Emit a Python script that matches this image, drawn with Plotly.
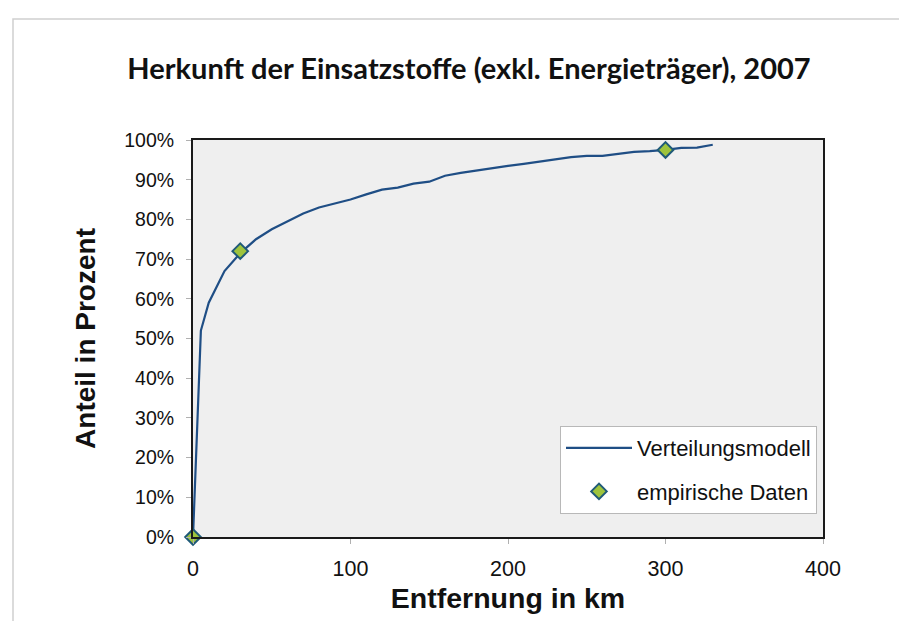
import plotly.graph_objects as go

# Model curve (distance in km, share in %)
model_km = [0, 5, 10, 20, 30, 40, 50, 60, 70, 80, 90, 100, 110, 120, 130, 140, 150,
            160, 170, 180, 190, 200, 210, 220, 230, 240, 250, 260, 270, 280, 290,
            300, 310, 320, 330]
model_pct = [0, 52, 59, 67, 71.5, 75, 77.5, 79.5, 81.5, 83, 84, 85, 86.3, 87.5, 88,
             89, 89.5, 91, 91.7, 92.3, 93, 93.5, 94, 94.6, 95.2, 95.7, 96, 96, 96.5,
             97, 97.2, 97.5, 98, 98.1, 98.8]

# Empirical data
emp_km = [0, 30, 300]
emp_pct = [0, 72, 97.5]

x_ticks = [0, 100, 200, 300, 400]
y_ticks = list(range(0, 101, 10))
y_tick_labels = [f"{v}%" for v in y_ticks]

L, R, T, B = 185, 815, 132, 529
W, H = 907, 621
pw = R - L
ph = B - T

fig = go.Figure()
fig.add_trace(go.Scatter(
    x=model_km, y=model_pct, mode="lines", name="Verteilungsmodell",
    line=dict(color="#1f4e85", width=2.2), legendgroup="a",
))
fig.add_trace(go.Scatter(
    x=emp_km, y=emp_pct, mode="markers", name="empirische Daten",
    marker=dict(symbol="diamond", size=12, color="#9ec43c",
                line=dict(color="#1f5a78", width=2)),
    cliponaxis=False, legendgroup="b",
))

fig.update_layout(
    width=W, height=H,
    margin=dict(l=L, r=W - R, t=T, b=H - B, pad=0),
    paper_bgcolor="white",
    plot_bgcolor="#efefef",
    font=dict(family="Liberation Sans, Arial", size=19, color="#111111"),
    title=dict(text="<b>Herkunft der Einsatzstoffe (exkl. Energieträger), 2007</b>",
               x=461 / W, xanchor="center", y=1 - 61 / H, yanchor="middle",
               font=dict(family="Lato", size=29, color="#111111")),
    showlegend=True,
    legend=dict(x=(809 - L) / pw, xanchor="right", y=(B - 506) / ph, yanchor="bottom",
                bgcolor="white", bordercolor="#b8b8b8", borderwidth=1,
                font=dict(family="Liberation Sans, Arial", size=22),
                itemwidth=66, tracegroupgap=12),
    xaxis=dict(range=[0, 400], tickvals=x_ticks, ticktext=[str(v) for v in x_ticks],
               showgrid=False, zeroline=False, showline=True, linecolor="#1a1a1a",
               linewidth=2, mirror=True, ticks="outside", ticklen=5,
               tickcolor="#b0b0b0", tickfont=dict(size=21.5), ticklabelstandoff=6,
               title=dict(text="<b>Entfernung in km</b>", font=dict(size=28.5), standoff=8)),
    yaxis=dict(range=[0, 100], tickvals=y_ticks, ticktext=y_tick_labels,
               showgrid=False, zeroline=False, showline=True, linecolor="#1a1a1a",
               linewidth=2, mirror=True, ticks="outside", ticklen=5,
               tickcolor="#b0b0b0", tickfont=dict(size=19.5), ticklabelstandoff=8,
               title=dict(text="<b>Anteil in Prozent</b>", font=dict(size=28), standoff=20)),
    shapes=[dict(type="rect", xref="paper", yref="paper",
                 x0=(5 - L) / pw, x1=(W + 20 - L) / pw,
                 y0=(B - (H + 20)) / ph, y1=(B - 11) / ph,
                 line=dict(color="#d0d0d0", width=1.5), fillcolor="rgba(0,0,0,0)",
                 layer="below")],
)

fig.write_html("out.html")
